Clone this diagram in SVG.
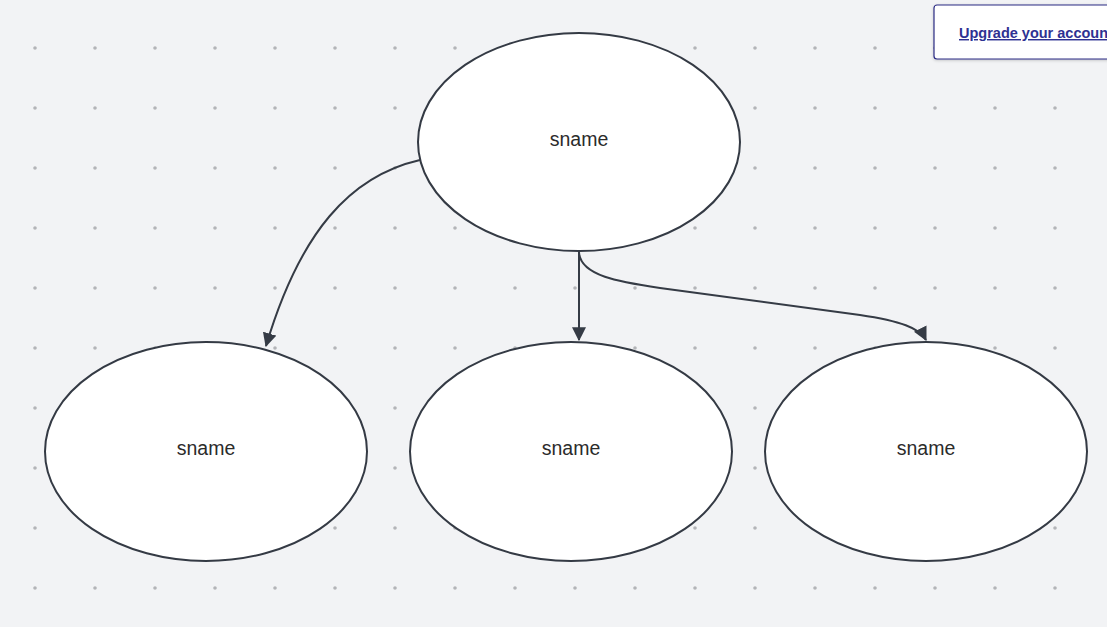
<svg xmlns="http://www.w3.org/2000/svg" width="1107" height="627" viewBox="0 0 1107 627">
<defs>
<pattern id="dots" x="5" y="18" width="60" height="60" patternUnits="userSpaceOnUse">
<circle cx="30" cy="30" r="1.8" fill="#b3b4b8"/>
</pattern>
<marker id="arr" viewBox="0 0 12 12" refX="11" refY="6" markerWidth="14" markerHeight="14" markerUnits="userSpaceOnUse" orient="auto">
<path d="M0,0 L12,6 L0,12 z" fill="#353b45"/>
</marker>
<filter id="sh" x="-10%" y="-20%" width="130%" height="160%">
<feDropShadow dx="0" dy="1" stdDeviation="1.5" flood-color="#000" flood-opacity="0.2"/>
</filter>
</defs>
<style>
.node ellipse{fill:#fff;stroke:#343a44;stroke-width:2}
.node text{font-family:"Liberation Sans",Arial,sans-serif;font-size:19.5px;fill:#2b2b2b;text-anchor:middle}
.edge{fill:none;stroke:#353b45;stroke-width:2;marker-end:url(#arr)}
</style>
<rect width="1107" height="627" fill="#f2f3f5"/>
<rect x="0" y="0" width="1080" height="600" fill="url(#dots)"/>
<g id="connectors">
<path class="edge" d="M420,160 C350,176 300,232 266,346"/>
<path class="edge" d="M579,252 L579,340"/>
<path class="edge" d="M579,252 C580,276 620,282 660,288 L860,315 C900,321 920,328 926,340"/>
</g>
<g id="node-top" class="node">
<ellipse cx="579" cy="142" rx="161" ry="109"/>
<text x="579" y="146">sname</text>
</g>
<g id="node-left" class="node">
<ellipse cx="206" cy="451.5" rx="161" ry="109.5"/>
<text x="206" y="455">sname</text>
</g>
<g id="node-middle" class="node">
<ellipse cx="571" cy="451.5" rx="161" ry="109.5"/>
<text x="571" y="455">sname</text>
</g>
<g id="node-right" class="node">
<ellipse cx="926" cy="451.5" rx="161" ry="109.5"/>
<text x="926" y="455">sname</text>
</g>
<g id="upgrade">
<rect x="934" y="5" width="200" height="54" rx="3" fill="#fff" stroke="#2c2c84" stroke-width="1.2" filter="url(#sh)"/>
<text x="959" y="38" font-family="'Liberation Sans',Arial,sans-serif" font-size="14.5" font-weight="bold" fill="#2e3192" text-decoration="underline">Upgrade your accoun</text>
</g>
</svg>
